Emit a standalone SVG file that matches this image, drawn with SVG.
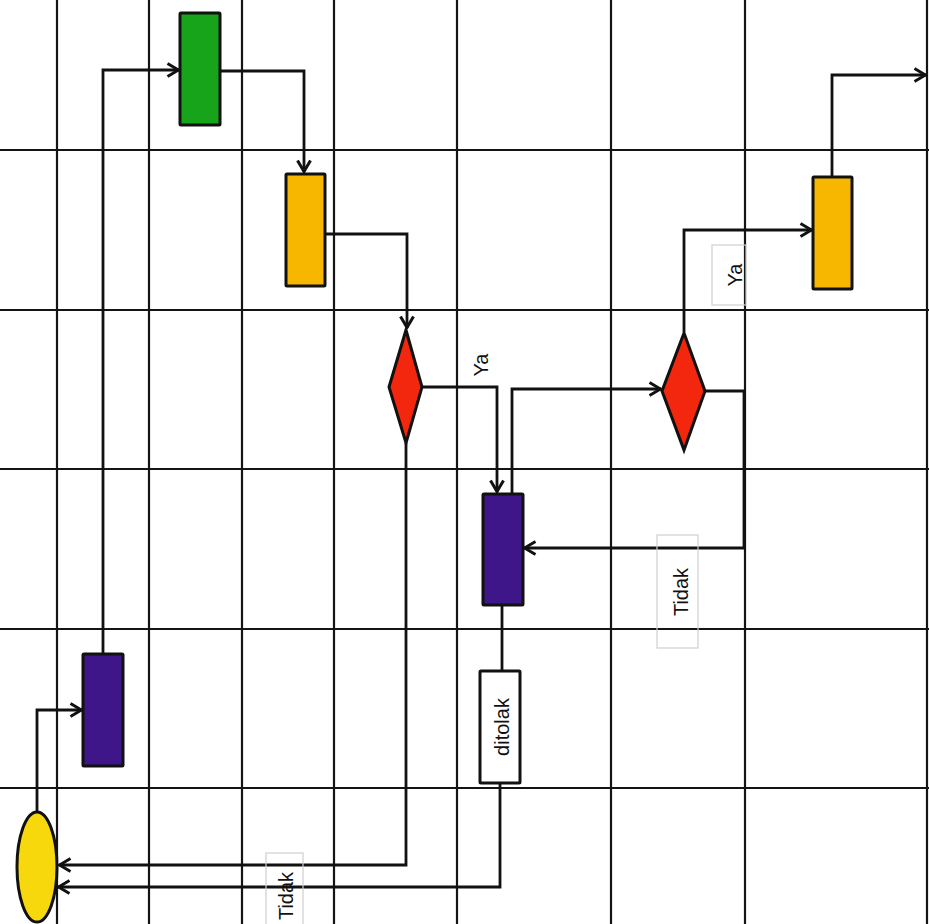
<svg xmlns="http://www.w3.org/2000/svg" width="929" height="924" viewBox="0 0 929 924">
<style>
.grid line{stroke:#141414;stroke-width:2.2}
.node{stroke:#111;stroke-width:3}
.conn path{fill:none;stroke:#111;stroke-width:2.8;stroke-linejoin:miter}
.lbl{font-family:"Liberation Sans",Arial,sans-serif;font-size:20px;fill:#111;text-anchor:middle}
.lblbox{fill:none;stroke:#cfcfcf;stroke-width:1.2}
</style>
<defs>
<marker id="arr" viewBox="0 0 14 16" refX="13" refY="8" markerWidth="14" markerHeight="16" markerUnits="userSpaceOnUse" orient="auto">
<path d="M1.5,1.5 L12.5,8 L1.5,14.5" fill="none" stroke="#111" stroke-width="3"/>
</marker>
</defs>
<rect width="929" height="924" fill="#fff"/>
<g class="grid">
<line x1="57" y1="0" x2="57" y2="924"/>
<line x1="149" y1="0" x2="149" y2="924"/>
<line x1="242" y1="0" x2="242" y2="924"/>
<line x1="334" y1="0" x2="334" y2="924"/>
<line x1="457" y1="0" x2="457" y2="924"/>
<line x1="611" y1="0" x2="611" y2="924"/>
<line x1="745" y1="0" x2="745" y2="924"/>
<line x1="927" y1="0" x2="927" y2="924"/>
<line x1="0" y1="150" x2="929" y2="150"/>
<line x1="0" y1="310" x2="929" y2="310"/>
<line x1="0" y1="469" x2="929" y2="469"/>
<line x1="0" y1="629" x2="929" y2="629"/>
<line x1="0" y1="788" x2="929" y2="788"/>
</g>
<g class="conn">
<path d="M37,812 V710 H82" marker-end="url(#arr)"/>
<path d="M103,654 V70 H179" marker-end="url(#arr)"/>
<path d="M220,71 H304 V172" marker-end="url(#arr)"/>
<path d="M325,234 H407 V328" marker-end="url(#arr)"/>
<path d="M422,387 H497 V492" marker-end="url(#arr)"/>
<path d="M512,493 V389 H661" marker-end="url(#arr)"/>
<path d="M705,391 H744 V548 H524" marker-end="url(#arr)"/>
<path d="M684,332 V230 H812" marker-end="url(#arr)"/>
<path d="M832,177 V75 H926" marker-end="url(#arr)"/>
<path d="M406,443 V865 H59" marker-end="url(#arr)"/>
<path d="M502,605 V671"/>
<path d="M500,783 V887 H58" marker-end="url(#arr)"/>
</g>
<g id="start"><ellipse class="node" cx="37" cy="867" rx="20" ry="55" fill="#f7d80c"/></g>
<g id="proc1"><rect class="node" x="83" y="654" width="40" height="112" rx="1" fill="#3f1689"/></g>
<g id="proc2"><rect class="node" x="180" y="13" width="40" height="112" rx="1" fill="#17a41a"/></g>
<g id="proc3"><rect class="node" x="286" y="174" width="39" height="112" rx="1" fill="#f7b700"/></g>
<g id="dec1"><polygon class="node" points="406,330 422,387 406,443 389,387" fill="#f3260e"/></g>
<g id="proc4"><rect class="node" x="483" y="494" width="40" height="111" rx="1" fill="#3f1689"/></g>
<g id="dec2"><polygon class="node" points="684,333 705,391 684,450 662,391" fill="#f3260e"/></g>
<g id="proc5"><rect class="node" x="813" y="177" width="39" height="112" rx="1" fill="#f7b700"/></g>
<g id="ditolak"><rect class="node" x="480" y="671" width="40" height="112" rx="1" fill="#fff"/>
<text class="lbl" transform="translate(509,727) rotate(-90)">ditolak</text></g>
<g id="labels">
<text class="lbl" transform="translate(488,365) rotate(-90)">Ya</text>
<rect class="lblbox" x="712" y="245" width="34" height="60"/>
<text class="lbl" transform="translate(742,275) rotate(-90)">Ya</text>
<rect class="lblbox" x="657" y="535" width="41" height="113"/>
<text class="lbl" transform="translate(688,592) rotate(-90)">Tidak</text>
<rect class="lblbox" x="266" y="853" width="37" height="113"/>
<text class="lbl" transform="translate(293,896) rotate(-90)">Tidak</text>
</g>
</svg>
